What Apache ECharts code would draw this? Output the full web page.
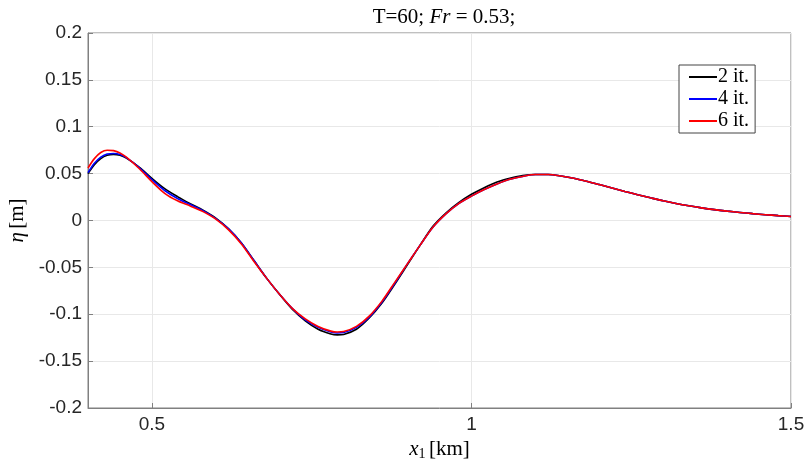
<!DOCTYPE html>
<html>
<head>
<meta charset="utf-8">
<script src="https://cdn.jsdelivr.net/npm/echarts@6/dist/echarts.min.js"></script>
<style>html,body{margin:0;padding:0;background:#fff}#c{width:806px;height:464px}</style>
</head>
<body>
<div id="c"></div>
<script>
const x1 = [0.40,0.41,0.42,0.43,0.44,0.45,0.46,0.48,0.50,0.52,0.54,0.56,0.58,0.60,0.62,0.64,0.66,0.68,0.70,0.72,0.74,0.76,0.78,0.79,0.80,0.82,0.84,0.86,0.88,0.90,0.92,0.94,0.96,0.98,1.00,1.02,1.04,1.06,1.08,1.10,1.12,1.14,1.16,1.18,1.20,1.22,1.24,1.26,1.28,1.30,1.32,1.34,1.36,1.38,1.40,1.42,1.44,1.46,1.48,1.50];
const eta2 = [0.050,0.0595,0.066,0.0695,0.0705,0.0695,0.0665,0.057,0.045,0.034,0.0255,0.018,0.011,0.0025,-0.009,-0.024,-0.043,-0.062,-0.079,-0.095,-0.107,-0.116,-0.121,-0.122,-0.1215,-0.116,-0.104,-0.088,-0.068,-0.047,-0.026,-0.006,0.008,0.019,0.028,0.035,0.041,0.045,0.048,0.049,0.049,0.0475,0.045,0.0418,0.0383,0.0347,0.031,0.0275,0.0242,0.021,0.0182,0.0157,0.0135,0.0116,0.010,0.0086,0.0073,0.0062,0.0052,0.0043];
const eta4 = [0.051,0.061,0.0675,0.071,0.0715,0.0705,0.067,0.0565,0.0435,0.032,0.0235,0.017,0.0105,0.002,-0.009,-0.024,-0.043,-0.062,-0.079,-0.094,-0.106,-0.114,-0.119,-0.120,-0.1195,-0.114,-0.103,-0.087,-0.067,-0.046,-0.026,-0.007,0.007,0.018,0.026,0.033,0.039,0.044,0.047,0.049,0.049,0.0475,0.045,0.0418,0.0383,0.0347,0.031,0.0275,0.0242,0.021,0.0182,0.0157,0.0135,0.0116,0.010,0.0086,0.0073,0.0062,0.0052,0.0043];
const eta6 = [0.056,0.066,0.0725,0.075,0.0745,0.072,0.0675,0.0555,0.0415,0.029,0.021,0.0155,0.0095,0.0015,-0.010,-0.025,-0.044,-0.062,-0.079,-0.094,-0.105,-0.113,-0.118,-0.119,-0.1185,-0.113,-0.102,-0.086,-0.066,-0.046,-0.026,-0.007,0.007,0.018,0.026,0.033,0.039,0.044,0.047,0.049,0.049,0.0475,0.045,0.0418,0.0383,0.0347,0.031,0.0275,0.0242,0.021,0.0182,0.0157,0.0135,0.0116,0.010,0.0086,0.0073,0.0062,0.0052,0.0043];
const seriesNames = ['2 it.','4 it.','6 it.'];
const xTicks = [0.5,1,1.5];

const chart = echarts.init(document.getElementById('c'), null, {renderer:'canvas'});
const pair = a => x1.map((x,i)=>[x,a[i]]);
const colors = ['#000000','#0000ff','#ff0000'];
const serif = 'Liberation Serif, DejaVu Serif, serif';
const sans = 'Liberation Sans, Arial, Helvetica, sans-serif';
chart.setOption({
  animation:false,
  title:{
    text:'{n|T=60; }{i|Fr}{n| = 0.53;}',
    left:439, textAlign:'center', top:2,
    textStyle:{fontWeight:'normal',rich:{n:{fontFamily:serif,fontSize:21,fontWeight:'normal',color:'#000'},i:{fontFamily:serif,fontSize:21,fontStyle:'italic',fontWeight:'normal',color:'#000'}}}
  },
  legend:{
    data:seriesNames, orient:'vertical', left:679, top:65,
    backgroundColor:'#fff', borderColor:'#444', borderWidth:1,
    padding:[2,6,2,10], itemGap:2, itemWidth:28, itemHeight:2, icon:'rect',
    textStyle:{fontFamily:serif,fontSize:20,color:'#000',padding:[0,0,0,-4]}
  },
  grid:{left:88,right:15,top:33,bottom:56,show:true,borderColor:'#808080',borderWidth:1,outerBoundsMode:'none',containLabel:false},
  xAxis:{
    type:'value', min:0.4, max:1.5,
    name:'{i|x}{s|1} {n|[km]}', nameLocation:'middle', nameGap:29,
    nameTextStyle:{rich:{i:{fontFamily:serif,fontSize:21,fontStyle:'italic',color:'#000'},s:{fontFamily:serif,fontSize:14,color:'#000',padding:[10,0,0,0]},n:{fontFamily:serif,fontSize:21,color:'#000'}}},
    axisLine:{show:true,onZero:false,lineStyle:{color:'#808080'}},
    axisTick:{show:true,inside:true,length:5,customValues:xTicks,lineStyle:{color:'#808080'}},
    axisLabel:{customValues:xTicks,fontFamily:sans,fontSize:19,color:'#262626',margin:7},
    splitLine:{show:true,lineStyle:{color:'#e8e8e8'}}
  },
  yAxis:{
    type:'value', min:-0.2, max:0.2, interval:0.05,
    name:'{i|η} {n|[m]}', nameLocation:'middle', nameGap:56, nameRotate:90,
    nameTextStyle:{rich:{i:{fontFamily:serif,fontSize:21,fontStyle:'italic',color:'#000'},n:{fontFamily:serif,fontSize:21,color:'#000'}}},
    axisLine:{show:true,lineStyle:{color:'#808080'}},
    axisTick:{show:true,inside:true,length:5,lineStyle:{color:'#808080'}},
    axisLabel:{fontFamily:sans,fontSize:19,color:'#262626',margin:6},
    splitLine:{show:true,lineStyle:{color:'#e8e8e8'}}
  },
  series:[eta2,eta4,eta6].map((d,k)=>({
    name:seriesNames[k], type:'line', data:pair(d), smooth:0.3, symbol:'none',
    lineStyle:{color:colors[k],width:1.6}, itemStyle:{color:colors[k]}, z:2+k
  }))
});
</script>
</body>
</html>
